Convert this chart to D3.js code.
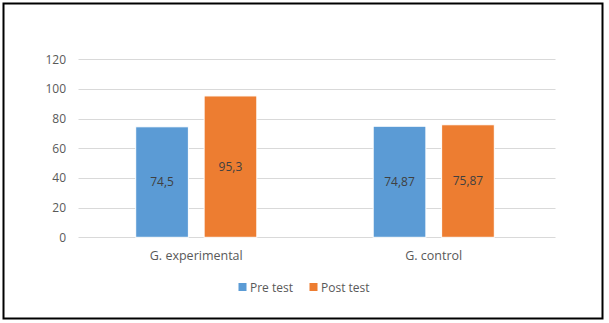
<!DOCTYPE html>
<html>
<head>
<meta charset="utf-8">
<style>
  body { margin: 0; background: #fff; }
  svg { display: block; }
  text { font-family: "Open Sans", "DejaVu Sans", sans-serif; }
</style>
</head>
<body>
<div id="chart"></div>
<script src="https://cdnjs.cloudflare.com/ajax/libs/d3/7.8.5/d3.min.js"></script>
<script>
// data
var groups = ["G. experimental", "G. control"];
var series = ["Pre test", "Post test"];
var preTest = [74.5, 74.87];
var postTest = [95.3, 75.87];
var valueLabels = [["74,5", "95,3"], ["74,87", "75,87"]];
var yTicks = [0, 20, 40, 60, 80, 100, 120];
var colors = ["#5b9bd5", "#ed7d31"];

var W = 609, H = 323;
var plot = { left: 78.5, right: 555.5, top: 59.3, bottom: 237.3 };

var svg = d3.select("#chart").append("svg")
  .attr("width", W)
  .attr("height", H);

// outer frame
svg.append("rect")
  .attr("x", 3.5).attr("y", 3.5)
  .attr("width", 599).attr("height", 315)
  .attr("fill", "#fff")
  .attr("stroke", "#000")
  .attr("stroke-width", 2);

var y = d3.scaleLinear().domain([0, 120]).range([plot.bottom, plot.top]);
var x0 = d3.scaleBand().domain(groups).range([77.5, 552.5])
  .paddingInner(0.49).paddingOuter(0.245);
var x1 = d3.scaleBand().domain(series).range([0, x0.bandwidth()]).paddingInner(0.23);

// gridlines
svg.append("g").selectAll("line")
  .data(yTicks).enter().append("line")
  .attr("x1", plot.left).attr("x2", plot.right)
  .attr("y1", function(d) { return Math.round(y(d)) + 0.5; })
  .attr("y2", function(d) { return Math.round(y(d)) + 0.5; })
  .attr("stroke", "#d9d9d9")
  .attr("stroke-width", 1);

// y tick labels
svg.append("g").selectAll("text")
  .data(yTicks).enter().append("text")
  .attr("x", 66)
  .attr("y", function(d) { return y(d); })
  .attr("dy", "0.35em")
  .attr("text-anchor", "end")
  .attr("fill", "#595959")
  .style("font-size", "12px")
  .text(function(d) { return d; });

var rows = groups.map(function(g, i) {
  return { group: g, values: [preTest[i], postTest[i]], labels: valueLabels[i] };
});

var grp = svg.append("g").selectAll("g")
  .data(rows).enter().append("g")
  .attr("transform", function(d) { return "translate(" + x0(d.group) + ",0)"; });

var bars = grp.selectAll("g")
  .data(function(d) {
    return series.map(function(s, j) {
      return { key: s, value: d.values[j], label: d.labels[j], color: colors[j] };
    });
  })
  .enter().append("g");

bars.append("rect")
  .attr("x", function(d) { return x1(d.key); })
  .attr("y", function(d) { return y(d.value); })
  .attr("width", x1.bandwidth())
  .attr("height", function(d) { return y(0) - y(d.value); })
  .attr("fill", function(d) { return d.color; })
  .attr("stroke", "#fff")
  .attr("stroke-width", 1);

bars.append("text")
  .attr("x", function(d) { return x1(d.key) + x1.bandwidth() / 2; })
  .attr("y", function(d) { return (y(d.value) + y(0)) / 2; })
  .attr("dy", "0.35em")
  .attr("text-anchor", "middle")
  .attr("fill", "#404040")
  .style("font-size", "12px")
  .text(function(d) { return d.label; });

// category labels
svg.append("g").selectAll("text")
  .data(groups).enter().append("text")
  .attr("x", function(d) { return x0(d) + x0.bandwidth() / 2; })
  .attr("y", 259.5)
  .attr("text-anchor", "middle")
  .attr("fill", "#595959")
  .style("font-size", "12.5px")
  .text(function(d) { return d; });

// legend
var legendX = [238.5, 309.5];
var legend = svg.append("g").selectAll("g")
  .data(series).enter().append("g")
  .attr("transform", function(d, i) { return "translate(" + legendX[i] + ",283)"; });

legend.append("rect")
  .attr("width", 8).attr("height", 8)
  .attr("fill", function(d, i) { return colors[i]; });

legend.append("text")
  .attr("x", 11.5)
  .attr("y", 8.5)
  .attr("fill", "#595959")
  .style("font-size", "12px")
  .text(function(d) { return d; });
</script>
</body>
</html>
